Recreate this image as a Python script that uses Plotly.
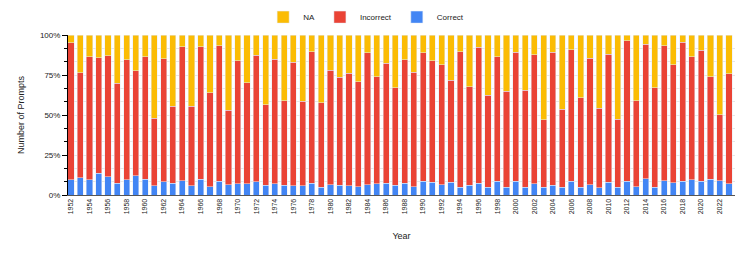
import plotly.graph_objects as go

years = list(range(1952, 2024))
correct = [9.4, 10.8, 9.4, 13.5, 11.3, 7.3, 9.4, 12.1, 9.8, 5.8,
           8.3, 7.3, 9.0, 5.8, 9.8, 5.2, 8.5, 6.3, 7.0, 7.1,
           8.3, 6.0, 7.1, 6.0, 5.8, 5.8, 7.3, 5.0, 6.3, 6.0,
           5.8, 5.2, 6.3, 6.9, 7.3, 6.0, 7.3, 5.2, 8.5, 8.1,
           6.3, 8.1, 4.8, 6.0, 7.5, 4.8, 8.5, 4.8, 8.5, 4.8,
           6.9, 5.0, 6.0, 4.8, 8.5, 4.8, 6.3, 4.4, 8.1, 4.8,
           8.5, 5.2, 10.2, 4.8, 9.0, 7.7, 8.5, 9.4, 8.5, 9.8,
           9.0, 7.1]
correct_plus_incorrect = [95.2, 76.5, 86.5, 85.8, 87.1, 69.8, 84.6, 77.7, 86.5, 47.9,
                          85.2, 55.6, 92.7, 55.6, 92.7, 64.0, 93.3, 53.1, 84.0, 70.2,
                          87.5, 56.3, 85.0, 59.0, 82.9, 58.5, 89.6, 57.7, 78.1, 73.5,
                          76.0, 70.8, 88.8, 73.8, 82.3, 67.1, 84.6, 76.7, 88.8, 84.0,
                          81.5, 71.7, 89.6, 67.7, 92.3, 62.3, 86.3, 64.8, 89.2, 65.6,
                          87.7, 46.9, 89.2, 53.5, 90.8, 60.8, 85.6, 54.2, 88.1, 47.3,
                          96.3, 59.0, 94.2, 66.9, 93.3, 81.5, 95.4, 86.5, 90.4, 73.8,
                          50.2, 75.8]
incorrect = [round(t - c, 1) for t, c in zip(correct_plus_incorrect, correct)]
na = [round(100 - t, 1) for t in correct_plus_incorrect]

tick_years = list(range(1952, 2024, 2))

fig = go.Figure()
fig.add_trace(go.Bar(x=years, y=correct, name="Correct", marker_color="#4285F4"))
fig.add_trace(go.Bar(x=years, y=incorrect, name="Incorrect", marker_color="#EA4335"))
fig.add_trace(go.Bar(x=years, y=na, name="NA", marker_color="#FBBC04"))

fig.update_layout(
    barmode="stack",
    bargap=0.34,
    width=747, height=253,
    margin=dict(l=60, r=20, t=27, b=66, autoexpand=False),
    paper_bgcolor="white", plot_bgcolor="white",
    font=dict(family="Liberation Sans, Arial, sans-serif", size=8, color="#222"),
    showlegend=True,
    legend=dict(orientation="h", x=0.447, xanchor="center", yref="container",
                y=0.964, yanchor="middle", traceorder="reversed",
                font=dict(size=8), itemwidth=30, tracegroupgap=0),
)
fig.update_xaxes(
    tickmode="array", tickvals=tick_years, ticktext=[str(y) for y in tick_years],
    tickangle=-90, tickfont=dict(size=7), showgrid=False, showline=True,
    linecolor="#555", linewidth=1,
    range=[1951.68, 2023.65], ticks="", automargin=False,
    title=dict(text="Year", font=dict(size=9), standoff=19),
)
fig.update_yaxes(
    range=[0, 100], tickvals=[0, 25, 50, 75, 100], ticktext=["0%", "25%", "50%", "75%", "100%"],
    ticks="outside", ticklen=5, tickcolor="black", showline=True, linecolor="black", linewidth=1,
    showgrid=True, gridcolor="#e6e6e6", gridwidth=1, automargin=False,
    minor=dict(dtick=100/12, tick0=0, ticks="outside", ticklen=3, tickcolor="black",
               showgrid=True, gridcolor="#e6e6e6"),
    title=dict(text="Number of Prompts", font=dict(size=9), standoff=13),
    zeroline=False,
)
fig.write_html("out.html")
